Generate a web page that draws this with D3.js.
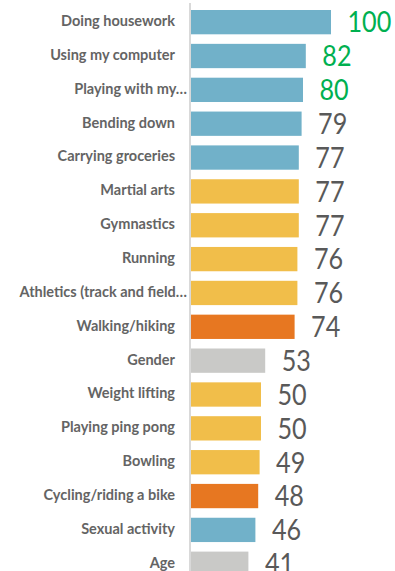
<!DOCTYPE html>
<html>
<head>
<meta charset="utf-8">
<script src="https://cdn.jsdelivr.net/npm/d3@7/dist/d3.min.js"></script>
<style>
  html, body { margin: 0; padding: 0; background: #fff; overflow: hidden; }
  svg { display: block; }
</style>
</head>
<body>
<svg id="chart" width="395" height="571"></svg>
<script>
const categories = [
  "Doing housework", "Using my computer", "Playing with my\u2026", "Bending down",
  "Carrying groceries", "Martial arts", "Gymnastics", "Running",
  "Athletics (track and field\u2026", "Walking/hiking", "Gender", "Weight lifting",
  "Playing ping pong", "Bowling", "Cycling/riding a bike", "Sexual activity", "Age"
];
const values = [100, 82, 80, 79, 77, 77, 77, 76, 76, 74, 53, 50, 50, 49, 48, 46, 41];
const groups = [
  "daily", "daily", "daily", "daily", "daily", "sport", "sport", "sport",
  "sport", "exercise", "demographic", "sport", "sport", "sport", "exercise", "daily", "demographic"
];
const highlighted = ["Doing housework", "Using my computer", "Playing with my\u2026"];

const groupColors = { daily: "#71B1C9", sport: "#F1BE4A", exercise: "#E77721", demographic: "#C9C9C7" };

const svg = d3.select("#chart");
const axisX = 190;
const step = 33.85;
const x = d3.scaleLinear().domain([0, 100]).range([axisX + 1, axisX + 141]);
const y = d3.scaleBand().domain(categories)
  .range([10 - 0.141 * step, 10 - 0.141 * step + categories.length * step])
  .paddingInner(0.282).paddingOuter(0.141);

const data = categories.map((c, i) => ({ c, v: values[i], g: groups[i] }));

svg.selectAll("rect.bar").data(data).join("rect")
  .attr("class", "bar")
  .attr("x", x(0))
  .attr("y", d => y(d.c))
  .attr("width", d => x(d.v) - x(0))
  .attr("height", y.bandwidth())
  .attr("fill", d => groupColors[d.g]);

// axis line
svg.append("line")
  .attr("x1", axisX).attr("x2", axisX)
  .attr("y1", 3).attr("y2", 571)
  .attr("stroke", "#D9D9D9").attr("stroke-width", 2);

// category labels
svg.selectAll("text.cat").data(data).join("text")
  .attr("class", "cat")
  .attr("x", d => d.c.endsWith("\u2026") ? 187 : 175)
  .attr("y", d => y(d.c) + y.bandwidth() / 2 + 3.9)
  .attr("text-anchor", "end")
  .attr("font-family", "Lato, 'Open Sans', sans-serif")
  .attr("font-weight", "bold")
  .attr("font-size", 14.5)
  .attr("fill", "#646464")
  .text(d => d.c);

// value labels
svg.selectAll("text.val").data(data).join("text")
  .attr("class", "val")
  .attr("transform", d => `translate(${x(d.v) + 16.5},${y(d.c) + y.bandwidth() / 2 + 10.3}) scale(0.88,1)`)
  .attr("font-family", "Lato, 'Open Sans', sans-serif")
  .attr("font-size", 28.6)
  .attr("fill", d => highlighted.includes(d.c) ? "#00B050" : "#595959")
  .text(d => d.v);
</script>
</body>
</html>
